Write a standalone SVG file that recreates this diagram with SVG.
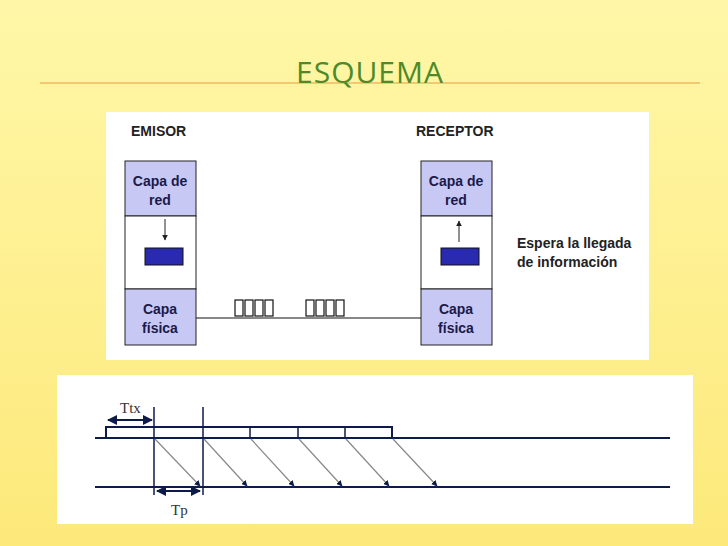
<svg xmlns="http://www.w3.org/2000/svg" width="728" height="546" viewBox="0 0 728 546">
<defs>
<linearGradient id="bg" x1="0" y1="0" x2="0" y2="1"><stop offset="0" stop-color="#fff7a8"/><stop offset="1" stop-color="#fde97a"/></linearGradient>
<marker id="ah" viewBox="0 0 10 10" refX="9" refY="5" markerWidth="5" markerHeight="5" orient="auto"><path d="M0,0L10,5L0,10z" fill="#0d1b4a"/></marker>
<marker id="as" viewBox="0 0 10 10" refX="1" refY="5" markerWidth="5" markerHeight="5" orient="auto"><path d="M10,0L0,5L10,10z" fill="#0d1b4a"/></marker>
<marker id="aa" viewBox="0 0 10 10" refX="9" refY="5" markerWidth="6" markerHeight="6" orient="auto"><path d="M0,0L10,5L0,10z" fill="#222"/></marker>
</defs>
<style>
.t{font-family:"Liberation Sans",Arial,sans-serif;font-weight:bold;font-size:14px;fill:#222}
.c{text-anchor:middle;fill:#1a1a4a}
.lav{fill:#c8c8f4;stroke:#222;stroke-width:1}
.wh{fill:#fff;stroke:#222;stroke-width:1}
.ln{stroke:#0d1b4a;stroke-width:2;fill:none}
.dg{stroke:#888;stroke-width:1.2;marker-end:url(#ah)}
.sr{font-family:"Liberation Serif","Times New Roman",serif;font-size:15px;fill:#333}
</style>
<rect width="728" height="546" fill="url(#bg)"/>
<line x1="40" y1="83" x2="700" y2="83" stroke="#f0b860" stroke-width="1.5"/>
<text x="370" y="83" text-anchor="middle" font-family="'Open Sans','Liberation Sans',sans-serif" font-size="30" fill="#4c8a2a" letter-spacing="1">ESQUEMA</text>
<rect x="106" y="112" width="543" height="248" fill="#fff"/>
<rect x="57" y="375" width="636" height="149" fill="#fff"/>
<g id="emisor">
<text class="t" x="131" y="136" font-size="13">EMISOR</text>
<rect class="lav" x="125" y="161" width="71" height="55"/>
<rect class="wh" x="125" y="216" width="71" height="73"/>
<rect class="lav" x="125" y="289" width="71" height="56"/>
<text class="t c" x="160" y="186">Capa de</text><text class="t c" x="160" y="205">red</text>
<line x1="165" y1="219" x2="165" y2="240" stroke="#222" marker-end="url(#aa)"/>
<rect x="145" y="248" width="38" height="17" fill="#2a2ab0" stroke="#111"/>
<text class="t c" x="160" y="314">Capa</text><text class="t c" x="160" y="333">física</text>
</g>
<g id="receptor">
<text class="t" x="416" y="136" font-size="13">RECEPTOR</text>
<rect class="lav" x="421" y="161" width="71" height="55"/>
<rect class="wh" x="421" y="216" width="71" height="73"/>
<rect class="lav" x="421" y="289" width="71" height="56"/>
<text class="t c" x="456" y="186">Capa de</text><text class="t c" x="456" y="205">red</text>
<line x1="459" y1="242" x2="459" y2="221" stroke="#222" marker-end="url(#aa)"/>
<rect x="441" y="248" width="38" height="17" fill="#2a2ab0" stroke="#111"/>
<text class="t c" x="456" y="314">Capa</text><text class="t c" x="456" y="333">física</text>
<text class="t" x="517" y="248">Espera la llegada</text>
<text class="t" x="517" y="267">de información</text>
</g>
<g id="connectors">
<line x1="196" y1="318" x2="421" y2="318" stroke="#111"/>
<g fill="none" stroke="#111" stroke-width="1.2">
<rect x="235" y="300" width="8" height="16"/><rect x="245" y="300" width="8" height="16"/><rect x="255" y="300" width="8" height="16"/><rect x="265" y="300" width="8" height="16"/>
<rect x="306" y="300" width="8" height="16"/><rect x="316" y="300" width="8" height="16"/><rect x="326" y="300" width="8" height="16"/><rect x="336" y="300" width="8" height="16"/>
</g>
</g>
<g id="timing">
<line class="ln" x1="95" y1="438" x2="670" y2="438"/>
<line class="ln" x1="95" y1="487" x2="670" y2="487"/>
<polyline class="ln" points="106,438 106,427 392,427 392,438"/>
<g stroke="#0d1b4a" stroke-width="1.5">
<line x1="154" y1="407" x2="154" y2="495"/>
<line x1="203" y1="407" x2="203" y2="495"/>
<line x1="250" y1="427" x2="250" y2="438"/>
<line x1="298" y1="427" x2="298" y2="438"/>
<line x1="345" y1="427" x2="345" y2="438"/>
</g>
<line class="dg" x1="155" y1="439" x2="200" y2="486"/>
<line class="dg" x1="204" y1="439" x2="247" y2="486"/>
<line class="dg" x1="251" y1="439" x2="294" y2="486"/>
<line class="dg" x1="299" y1="439" x2="342" y2="486"/>
<line class="dg" x1="346" y1="439" x2="389" y2="486"/>
<line class="dg" x1="393" y1="439" x2="437" y2="486"/>
<line x1="108" y1="420" x2="152" y2="420" stroke="#0d1b4a" stroke-width="2" marker-start="url(#as)" marker-end="url(#ah)"/>
<line x1="157" y1="491" x2="200" y2="491" stroke="#0d1b4a" stroke-width="2" marker-start="url(#as)" marker-end="url(#ah)"/>
<text class="sr" x="120" y="413">Ttx</text>
<text class="sr" x="171" y="515">Tp</text>
</g>
</svg>
